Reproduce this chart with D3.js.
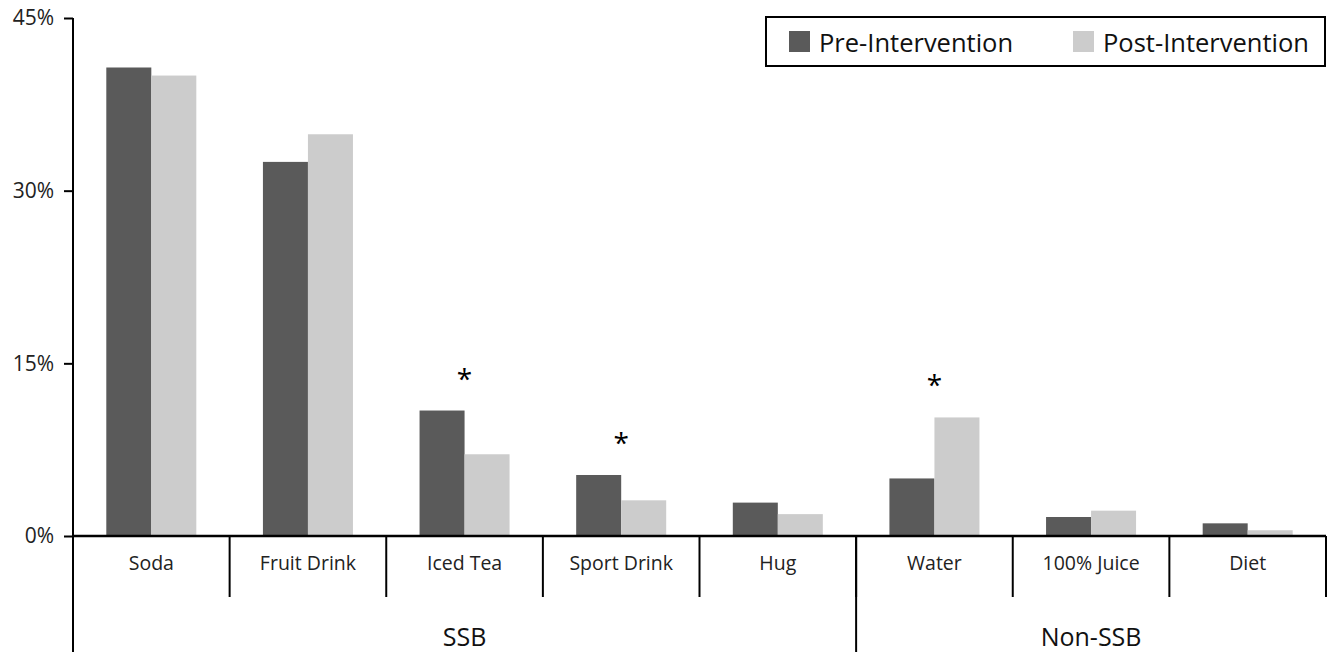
<!DOCTYPE html>
<html>
<head>
<meta charset="utf-8">
<script src="https://cdn.jsdelivr.net/npm/d3@7"></script>
<style>
  body { margin: 0; background: #fff; }
  svg { display: block; font-family: "Open Sans", "Noto Sans", sans-serif; }
</style>
</head>
<body>
<svg id="chart" width="1328" height="652"></svg>
<script>
const categories = ["Soda", "Fruit Drink", "Iced Tea", "Sport Drink", "Hug", "Water", "100% Juice", "Diet"];
const groupOf = ["SSB", "SSB", "SSB", "SSB", "SSB", "Non-SSB", "Non-SSB", "Non-SSB"];
const preValues = [40.7, 32.5, 10.9, 5.3, 2.9, 5.0, 1.65, 1.1];
const postValues = [40.0, 34.9, 7.1, 3.1, 1.9, 10.3, 2.2, 0.5];
const significant = ["Iced Tea", "Sport Drink", "Water"];
const seriesNames = ["Pre-Intervention", "Post-Intervention"];
const yTicks = [0, 15, 30, 45];

const colors = { "Pre-Intervention": "#5a5a5a", "Post-Intervention": "#cccccc" };

const margin = { top: 18, right: 2, bottom: 116, left: 73 };
const width = 1328, height = 652;
const innerW = width - margin.left - margin.right;
const innerH = height - margin.top - margin.bottom;

const svg = d3.select("#chart");

const x = d3.scaleBand().domain(categories).range([0, innerW]).padding(0);
const xs = d3.scaleBand().domain(seriesNames).range([0, x.bandwidth()]).paddingInner(0).paddingOuter(0.74);
const y = d3.scaleLinear().domain([0, 45]).range([innerH, 0]);

const g = svg.append("g").attr("transform", `translate(${margin.left},${margin.top})`);

const rows = categories.map((c, i) => ({ cat: c, group: groupOf[i], vals: [preValues[i], postValues[i]] }));

// bars
const cat = g.selectAll("g.cat").data(rows).enter().append("g")
  .attr("class", "cat")
  .attr("transform", d => `translate(${x(d.cat)},0)`);

cat.selectAll("rect").data(d => d.vals.map((v, j) => ({ s: seriesNames[j], v }))).enter().append("rect")
  .attr("x", d => xs(d.s))
  .attr("y", d => y(d.v))
  .attr("width", xs.bandwidth())
  .attr("height", d => innerH - y(d.v))
  .attr("fill", d => colors[d.s]);

// significance stars
cat.filter(d => significant.includes(d.cat)).append("text")
  .attr("x", x.bandwidth() / 2)
  .attr("y", d => y(d3.max(d.vals)) - 22)
  .attr("text-anchor", "middle")
  .attr("font-size", 28)
  .text("*");

// y axis
const yAxis = d3.axisLeft(y).tickValues(yTicks).tickFormat(d => d + "%").tickSize(9).tickPadding(10);
const ya = g.append("g").call(yAxis).attr("font-family", null);
ya.select(".domain").remove();
ya.selectAll("line").attr("stroke", "#000").attr("stroke-width", 2);
ya.selectAll("text").attr("font-size", 21).attr("fill", "#222");

// axis lines
g.append("line").attr("x1", 0).attr("x2", 0).attr("y1", 0).attr("y2", height - margin.top)
  .attr("stroke", "#000").attr("stroke-width", 2);
g.append("line").attr("x1", 0).attr("x2", innerW).attr("y1", innerH).attr("y2", innerH)
  .attr("stroke", "#000").attr("stroke-width", 2.5);

// category dividers and labels
const xAxis = d3.axisBottom(x).tickSize(0).tickPadding(20);
const xa = g.append("g").attr("transform", `translate(0,${innerH})`).call(xAxis).attr("font-family", null);
xa.select(".domain").remove();
xa.selectAll("text").attr("font-size", 19.5).attr("fill", "#222");

g.selectAll("line.div").data(categories.slice(1).concat([null])).enter().append("line")
  .attr("class", "div")
  .attr("x1", d => d ? x(d) : innerW).attr("x2", d => d ? x(d) : innerW)
  .attr("y1", innerH).attr("y2", innerH + 61)
  .attr("stroke", "#000").attr("stroke-width", 2);

// group spans
const groups = Array.from(d3.group(rows, d => d.group), ([k, v]) => ({
  name: k, x0: x(v[0].cat), x1: x(v[v.length - 1].cat) + x.bandwidth()
}));
g.selectAll("line.grp").data(groups.slice(1)).enter().append("line")
  .attr("x1", d => d.x0).attr("x2", d => d.x0)
  .attr("y1", innerH).attr("y2", height - margin.top)
  .attr("stroke", "#000").attr("stroke-width", 2);
g.selectAll("text.grp").data(groups).enter().append("text")
  .attr("x", d => (d.x0 + d.x1) / 2)
  .attr("y", innerH + 110)
  .attr("text-anchor", "middle")
  .attr("font-size", 25)
  .attr("fill", "#111")
  .text(d => d.name);

// legend
const lg = svg.append("g").attr("transform", "translate(766,17)");
lg.append("rect").attr("width", 559).attr("height", 49).attr("fill", "#fff")
  .attr("stroke", "#000").attr("stroke-width", 2);
const item = lg.selectAll("g.item").data(seriesNames).enter().append("g")
  .attr("transform", (d, i) => `translate(${i === 0 ? 23 : 307},14)`);
item.append("rect").attr("width", 21).attr("height", 21).attr("fill", d => colors[d]);
item.append("text").attr("x", 30).attr("y", 21).attr("font-size", 25.5).attr("fill", "#111").text(d => d);
</script>
</body>
</html>
